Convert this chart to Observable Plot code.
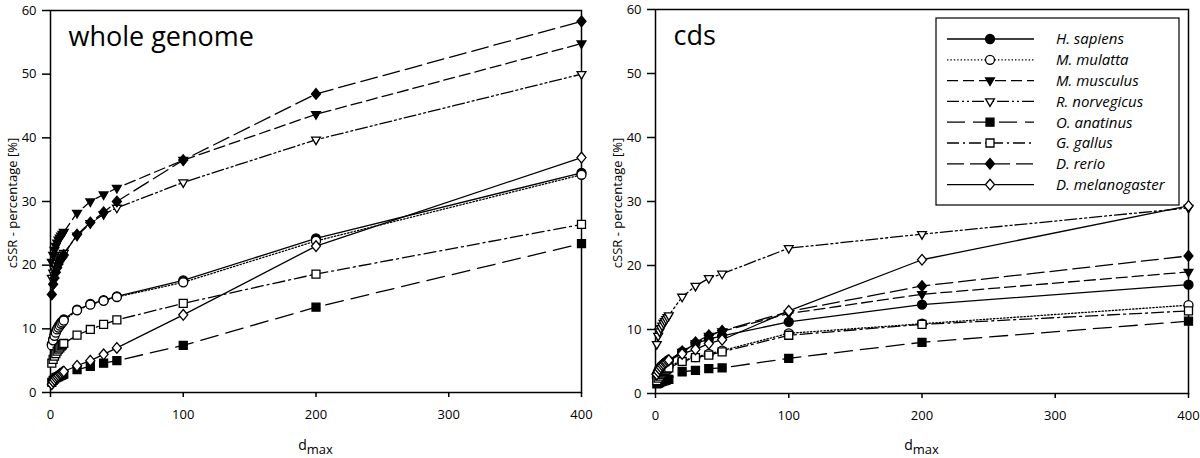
<!DOCTYPE html>
<html>
<head>
<meta charset="utf-8">
<script src="https://cdn.jsdelivr.net/npm/d3@7"></script>
<script src="https://cdn.jsdelivr.net/npm/@observablehq/plot@0.6"></script>
<style>
  html, body { margin: 0; padding: 0; background: white; }
  #wrap { display: flex; width: 1200px; height: 458px; }
  #wrap > div { width: 600px; }
</style>
</head>
<body>
<div id="wrap"><div id="left"></div><div id="right"></div></div>
<script>
// ---- data ----
const dmax = [1, 2, 3, 4, 5, 6, 7, 8, 9, 10, 20, 30, 40, 50, 100, 200, 400];
const species = ["H. sapiens", "M. mulatta", "M. musculus", "R. norvegicus", "O. anatinus", "G. gallus", "D. rerio", "D. melanogaster"];
const xTicks = [0, 100, 200, 300, 400];
const yTicks = [0, 10, 20, 30, 40, 50, 60];

// whole genome
const wgHsapiens   = [7.6, 8.4, 9.1, 9.6, 10.0, 10.4, 10.7, 11.0, 11.2, 11.5, 13.0, 13.9, 14.5, 15.1, 17.6, 24.2, 34.5];
const wgMmulatta   = [7.4, 8.2, 8.9, 9.4, 9.9, 10.2, 10.5, 10.8, 11.0, 11.3, 12.9, 13.8, 14.4, 15.0, 17.3, 23.8, 34.2];
const wgMmusculus  = [20.5, 21.6, 22.4, 23.0, 23.5, 24.0, 24.3, 24.6, 24.9, 25.2, 28.2, 30.0, 31.1, 32.1, 36.5, 43.7, 54.8];
const wgRnorvegicus= [18.0, 18.8, 19.4, 19.9, 20.3, 20.7, 21.0, 21.3, 21.6, 21.9, 24.6, 26.6, 28.0, 29.0, 33.0, 39.7, 50.0];
const wgOanatinus  = [1.6, 1.9, 2.1, 2.3, 2.4, 2.5, 2.6, 2.7, 2.8, 2.9, 3.6, 4.1, 4.6, 5.0, 7.4, 13.4, 23.4];
const wgGgallus    = [4.6, 5.2, 5.7, 6.1, 6.5, 6.8, 7.0, 7.3, 7.5, 7.7, 9.0, 9.9, 10.7, 11.4, 14.0, 18.6, 26.4];
const wgDrerio     = [15.4, 17.0, 18.0, 18.9, 19.6, 20.2, 20.7, 21.0, 21.3, 21.6, 24.8, 26.7, 28.3, 30.0, 36.5, 46.9, 58.3];
const wgDmelano    = [1.3, 1.7, 2.0, 2.3, 2.5, 2.7, 2.9, 3.0, 3.2, 3.3, 4.2, 5.0, 6.0, 7.0, 12.2, 23.0, 36.9];

// cds
const cdsHsapiens   = [3.0, 3.5, 3.9, 4.2, 4.4, 4.6, 4.8, 4.9, 5.0, 5.1, 6.5, 7.8, 8.5, 9.0, 11.2, 13.9, 17.0];
const cdsMmulatta   = [2.5, 2.9, 3.2, 3.5, 3.7, 3.9, 4.0, 4.1, 4.2, 4.3, 5.1, 5.7, 6.2, 6.7, 9.4, 10.9, 13.8];
const cdsMmusculus  = [2.6, 3.1, 3.5, 3.8, 4.1, 4.3, 4.5, 4.7, 4.9, 5.0, 6.5, 7.8, 9.0, 9.7, 12.5, 15.5, 19.0];
const cdsRnorvegicus= [7.7, 9.0, 9.7, 10.2, 10.6, 11.0, 11.3, 11.6, 11.9, 12.2, 15.1, 16.8, 18.0, 18.7, 22.7, 24.9, 29.0];
const cdsOanatinus  = [1.5, 1.6, 1.7, 1.8, 1.9, 2.0, 2.0, 2.1, 2.2, 2.2, 3.4, 3.6, 3.9, 4.0, 5.5, 8.0, 11.3];
const cdsGgallus    = [2.0, 2.4, 2.7, 3.0, 3.2, 3.4, 3.6, 3.7, 3.9, 4.0, 5.0, 5.6, 6.0, 6.5, 9.1, 10.8, 12.9];
const cdsDrerio     = [3.0, 3.4, 3.8, 4.1, 4.4, 4.6, 4.8, 5.0, 5.1, 5.2, 6.6, 8.0, 9.1, 9.8, 12.8, 16.8, 21.5];
const cdsDmelano    = [3.0, 3.4, 3.8, 4.1, 4.4, 4.6, 4.8, 4.9, 5.1, 5.2, 6.2, 6.9, 7.8, 8.4, 12.9, 20.9, 29.3];

const wgSeries  = [wgHsapiens, wgMmulatta, wgMmusculus, wgRnorvegicus, wgOanatinus, wgGgallus, wgDrerio, wgDmelano];
const cdsSeries = [cdsHsapiens, cdsMmulatta, cdsMmusculus, cdsRnorvegicus, cdsOanatinus, cdsGgallus, cdsDrerio, cdsDmelano];

// ---- styles ----
const triangleDown = {
  draw(ctx, size) {
    const r = Math.sqrt(size / Math.PI);
    ctx.moveTo(-0.98 * r, -0.58 * r);
    ctx.lineTo(0.98 * r, -0.58 * r);
    ctx.lineTo(0, 1.1 * r);
    ctx.closePath();
  }
};
const diamond = {
  draw(ctx, size) {
    const r = Math.sqrt(size / Math.PI);
    ctx.moveTo(0, -1.18 * r);
    ctx.lineTo(1.0 * r, 0);
    ctx.lineTo(0, 1.18 * r);
    ctx.lineTo(-1.0 * r, 0);
    ctx.closePath();
  }
};
const symbols = ["circle", "circle", triangleDown, triangleDown, "square", "square", diamond, diamond];
const fills   = ["black", "white", "black", "white", "black", "white", "black", "white"];
const dashes  = [null, "1.4,2", "11,5", "12,3,2,3,2,3", "18,8", "12,4,2,4", "17,6", null];
const FONT = "'Open Sans', sans-serif";

function makePanel(series, title, margins, withLegend) {
  const rows = [];
  species.forEach((s, i) => dmax.forEach((d, j) => rows.push({species: s, idx: i, dmax: d, value: series[i][j]})));
  const marks = [Plot.frame({stroke: "black", strokeWidth: 1.5})];
  species.forEach((s, i) => {
    const sub = rows.filter(r => r.idx === i);
    marks.push(Plot.line(sub, {x: "dmax", y: "value", stroke: "black", strokeWidth: 1.3, strokeDasharray: dashes[i]}));
  });
  species.forEach((s, i) => {
    const sub = rows.filter(r => r.idx === i);
    marks.push(Plot.dot(sub, {x: "dmax", y: "value", symbol: () => symbols[i], r: 4.5, fill: fills[i], stroke: "black", strokeWidth: 1.3}));
  });
  marks.push(Plot.axisX({ticks: xTicks, tickSize: 5, tickPadding: 12, label: null, strokeWidth: 1.5, fontSize: 13}));
  marks.push(Plot.axisY({ticks: yTicks, tickSize: 8, tickPadding: 6, label: null, strokeWidth: 1.5, fontSize: 13}));
  marks.push(Plot.text([title], {frameAnchor: "top-left", dx: 18, dy: 16, text: d => d, fontSize: 27, textAnchor: "start", lineAnchor: "top"}));

  const plot = Plot.plot({
    width: 600,
    height: 458,
    marginLeft: margins.left,
    marginRight: margins.right,
    marginTop: margins.top,
    marginBottom: margins.bottom,
    style: {fontFamily: FONT, fontSize: "13px", color: "black", background: "white"},
    x: {domain: [0, 400]},
    y: {domain: [0, 60]},
    symbol: {type: "identity"},
    marks
  });

  const svg = d3.select(plot);
  const xs = plot.scale("x"), ys = plot.scale("y");
  // x label with subscript
  const xl = svg.append("text")
    .attr("x", xs.apply(200))
    .attr("y", 450)
    .attr("text-anchor", "middle")
    .attr("font-family", FONT)
    .attr("font-size", 14)
    .attr("fill", "black");
  xl.append("tspan").text("d");
  xl.append("tspan").attr("dy", 4).attr("font-size", 13).text("max");
  // y label
  const ymid = (ys.apply(0) + ys.apply(60)) / 2 + 2;
  svg.append("text")
    .attr("transform", `translate(${margins.left - 33},${ymid}) rotate(-90)`)
    .attr("text-anchor", "middle")
    .attr("font-family", FONT)
    .attr("font-size", 13)
    .attr("fill", "black")
    .text("cSSR - percentage [%]");

  if (withLegend) {
    const g = svg.append("g");
    const bx = 336, by = 18, bw = 243, bh = 187, rowH = 20.8;
    g.append("rect").attr("x", bx).attr("y", by).attr("width", bw).attr("height", bh)
      .attr("fill", "white").attr("stroke", "black").attr("stroke-width", 1.2);
    species.forEach((s, i) => {
      const cy = by + 21 + i * rowH;
      g.append("line").attr("x1", bx + 11).attr("x2", bx + 98).attr("y1", cy).attr("y2", cy)
        .attr("stroke", "black").attr("stroke-width", 1.3)
        .attr("stroke-dasharray", dashes[i]);
      const sym = typeof symbols[i] === "string"
        ? (symbols[i] === "circle" ? d3.symbolCircle : d3.symbolSquare)
        : symbols[i];
      g.append("path").attr("d", d3.symbol(sym, Math.PI * 4.5 * 4.5)())
        .attr("transform", `translate(${bx + 54},${cy})`)
        .attr("fill", fills[i]).attr("stroke", "black").attr("stroke-width", 1.3);
      g.append("text").attr("x", bx + 120).attr("y", cy).attr("dy", "0.36em")
        .attr("text-anchor", "start")
        .attr("font-family", FONT).attr("font-size", 15).attr("font-style", "italic")
        .attr("fill", "black").text(s);
    });
  }
  return plot;
}

document.getElementById("left").appendChild(
  makePanel(wgSeries, "whole genome", {left: 50, right: 19, top: 10, bottom: 66}, false));
document.getElementById("right").appendChild(
  makePanel(cdsSeries, "cds", {left: 55, right: 12, top: 9, bottom: 65}, true));
</script>
</body>
</html>
